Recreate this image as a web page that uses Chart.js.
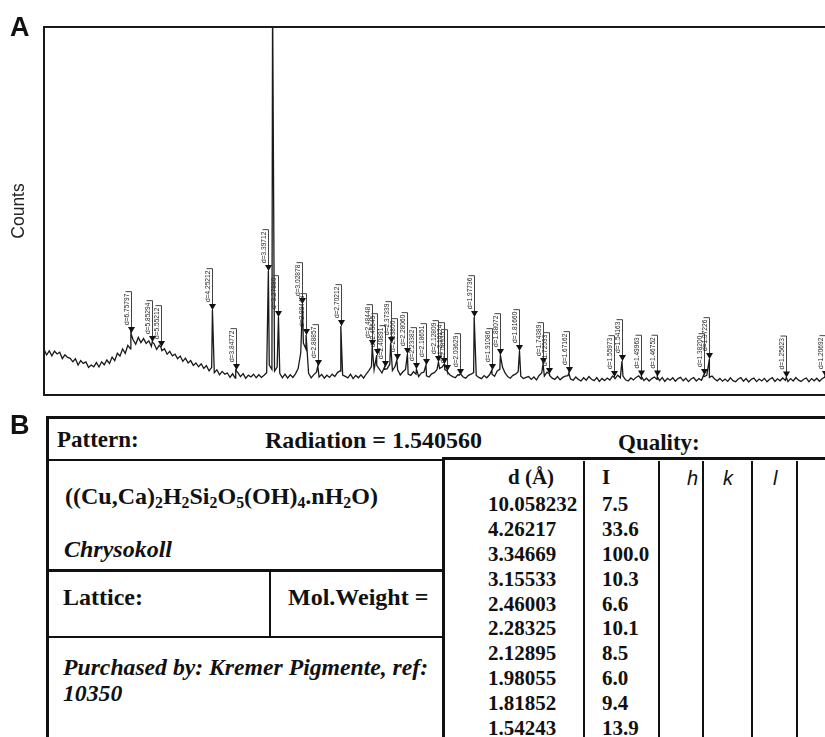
<!DOCTYPE html>
<html>
<head>
<meta charset="utf-8">
<script src="https://cdn.jsdelivr.net/npm/chart.js@4.4.1/dist/chart.umd.min.js"></script>
<style>
  html, body { margin: 0; padding: 0; background: #fff; }
  body { width: 825px; height: 737px; overflow: hidden; position: relative; }
  .abs { position: absolute; white-space: nowrap; }
  #plotWrap { position: absolute; left: 0; top: 0; width: 825px; height: 405px; overflow: hidden; }
  #xrd { position: absolute; left: 0; top: 0; }
  .panel { font-family: "Liberation Sans", Arial, sans-serif; font-weight: bold; font-size: 27px; line-height: 30px; color: #111; }
  .tb { font-family: "Liberation Serif", "Times New Roman", serif; font-weight: bold; color: #111; }
  .it { font-style: italic; }
  .hkl { font-family: "Liberation Sans", Arial, sans-serif; font-style: italic; font-size: 20px; color: #111; }
  .ln { position: absolute; background: #111; }
  sub { font-size: 0.66em; vertical-align: -0.28em; line-height: 0; }
</style>
</head>
<body>

<div id="plotWrap"><canvas id="xrd" width="840" height="405"></canvas></div>

<div class="abs panel" style="left:10px; top:12px;">A</div>
<div class="abs panel" style="left:10px; top:410px;">B</div>

<div id="sheet"></div>

<script>
// ---- Diffractogram data ----
const wavelength = 1.54056;           // Cu K-alpha, Angstrom
const gridStart = 4.8;                // first 2-theta sample (deg)
const gridStep = 0.25;                // 2-theta sampling step (deg)

// background counts, one per 2-theta sample
const baseCounts = [
  228,200,221,196,219,205,214,182,201,188,
  183,166,181,150,172,158,165,138,150,141,
  162,140,166,151,175,158,190,172,209,195,
  230,208,248,231,276,254,288,262,282,258,
  271,243,257,228,248,222,231,204,218,196,
  204,182,195,168,184,160,172,148,160,141,
  156,133,147,121,138,112,126,101,118,104,
  110,88,106,84,112,92,107,83,99,90,
  104,86,101,88,99,112,150,128,120,140,
  108,86,104,84,101,88,106,132,210,260,
  230,108,86,102,114,90,103,84,99,88,
  104,92,112,120,100,93,86,104,82,98,
  86,101,84,105,122,142,126,148,130,110,
  128,132,154,122,142,126,100,116,128,104,
  98,116,104,92,110,114,96,90,106,112,
  126,133,140,127,115,100,92,86,101,106,
  90,84,98,104,112,98,88,82,97,86,
  100,104,94,120,128,140,110,92,84,98,
  104,116,94,82,88,92,78,90,75,98,
  110,94,114,98,84,78,92,76,88,94,
  97,80,74,90,78,70,86,74,92,79,
  72,87,68,83,72,85,75,94,82,99,
  86,95,76,70,85,75,88,96,80,72,
  84,70,82,90,78,72,87,68,83,74,
  86,69,82,88,71,84,67,80,87,70,
  82,74,92,98,88,95,80,71,83,69,
  80,68,86,72,66,80,87,69,82,65,
  78,85,67,80,70,83,66,79,87,68,
  81,71,85,73,67,82,70,87,74,68,
  79,85,67,82,71,84,69,81,89,72,
  70,83,74
];

// labelled reflections: d-spacing (Angstrom) and peak counts
const peakLabels = [
  '6.75797','5.85294','5.55212','4.25212','3.84772','3.39712','3.27880','3.02878',
  '2.99448','2.88857','2.70212','2.48448','2.45645','2.40891','2.37339','2.33800',
  '2.28060','2.23382','2.18651','2.12809','2.10124','2.08935','2.03629','1.97736',
  '1.91086','1.88072','1.81660','1.74389','1.72533','1.67162','1.55973','1.54163',
  '1.49963','1.46752','1.38200','1.37226','1.25623','1.20692'
];
const peakCounts = [
  310,265,240,425,125,620,390,455,
  300,145,345,245,200,140,260,175,
  205,130,150,165,155,120,100,390,
  125,200,220,155,105,110,90,170,
  92,92,100,180,88,90
];

// strongest reflection (unlabelled, runs off the top of the frame)
const strongD = [3.34669];
const strongCounts = [2000];

// ---- Reference pattern table ----
const tableD = ['10.058232','4.26217','3.34669','3.15533','2.46003','2.28325','2.12895','1.98055','1.81852','1.54243'];
const tableI = ['7.5','33.6','100.0','10.3','6.6','10.1','8.5','6.0','9.4','13.9'];

// Bragg's law: d-spacing -> 2-theta in degrees
function twoTheta(d) {
  return 2 * Math.asin(wavelength / (2 * d)) * 180 / Math.PI;
}

const trace = [];
baseCounts.forEach((c, i) => trace.push({ x: gridStart + i * gridStep, y: c }));
peakLabels.forEach((d, k) => trace.push({ x: twoTheta(parseFloat(d)), y: peakCounts[k] }));
strongD.forEach((d, k) => trace.push({ x: twoTheta(d), y: strongCounts[k] }));
trace.sort((a, b) => a.x - b.x);

const peakMarks = peakLabels.map((d, k) => ({ x: twoTheta(parseFloat(d)), y: peakCounts[k], text: 'd=' + d }));

// frame around the plotting area (left, top, bottom) and the axis title
const framePlugin = {
  id: 'frame',
  afterDraw(chart) {
    const { ctx, chartArea: a } = chart;
    ctx.save();
    ctx.strokeStyle = '#1a1a1a';
    ctx.lineWidth = 2;
    ctx.beginPath();
    ctx.moveTo(a.right, a.top); ctx.lineTo(a.left, a.top);
    ctx.lineTo(a.left, a.bottom); ctx.lineTo(a.right, a.bottom);
    ctx.stroke();
    ctx.fillStyle = '#222';
    ctx.font = '17.5px "Liberation Sans", Arial, sans-serif';
    ctx.textAlign = 'center';
    ctx.textBaseline = 'middle';
    ctx.translate(19, 211);
    ctx.rotate(-Math.PI / 2);
    ctx.fillText('Counts', 0, 0);
    ctx.restore();
  }
};

// peak markers: down-pointing triangle, leader line and rotated d-spacing label
const peakPlugin = {
  id: 'peakLabels',
  afterDatasetsDraw(chart) {
    const { ctx } = chart;
    const xs = chart.scales.x, ys = chart.scales.y;
    ctx.save();
    ctx.font = '6.6px "Liberation Sans", Arial, sans-serif';
    peakMarks.forEach(p => {
      const px = Math.round(xs.getPixelForValue(p.x)) + 0.5;
      const py = ys.getPixelForValue(p.y);
      const tw = ctx.measureText(p.text).width;
      const base = py - 6;
      const textStart = base - 2;
      const top = textStart - tw - 2;
      ctx.strokeStyle = '#444';
      ctx.lineWidth = 1;
      ctx.beginPath();
      ctx.moveTo(px - 6, top); ctx.lineTo(px, top); ctx.lineTo(px, py);
      ctx.stroke();
      ctx.fillStyle = '#111';
      ctx.beginPath();
      ctx.moveTo(px - 3.5, base); ctx.lineTo(px + 3.5, base); ctx.lineTo(px, py);
      ctx.closePath();
      ctx.fill();
      ctx.save();
      ctx.translate(px - 1, textStart);
      ctx.rotate(-Math.PI / 2);
      ctx.fillStyle = '#222';
      ctx.textAlign = 'left';
      ctx.textBaseline = 'bottom';
      ctx.fillText(p.text, 0, 0);
      ctx.restore();
    });
    ctx.restore();
  }
};

new Chart(document.getElementById('xrd'), {
  type: 'line',
  data: {
    datasets: [{
      data: trace,
      borderColor: '#1a1a1a',
      borderWidth: 1.3,
      pointRadius: 0,
      tension: 0,
      fill: false
    }]
  },
  options: {
    responsive: false,
    devicePixelRatio: 1,
    animation: false,
    events: [],
    layout: { padding: { left: 44, top: 27, right: 8, bottom: 10 } },
    plugins: { legend: { display: false }, tooltip: { enabled: false } },
    scales: {
      x: { type: 'linear', min: 4.8, max: 80, display: false },
      y: { min: 0, max: 1840, display: false }
    }
  },
  plugins: [framePlugin, peakPlugin]
});

// ---- Table (panel B) ----
const sheet = document.getElementById('sheet');
function line(l, t, w, h) {
  const e = document.createElement('div');
  e.className = 'ln';
  e.style.cssText = `left:${l}px;top:${t}px;width:${w}px;height:${h}px;`;
  sheet.appendChild(e);
}
function text(html, l, cy, size, cls) {
  const e = document.createElement('div');
  e.className = 'abs ' + (cls || 'tb');
  e.style.cssText = `left:${l}px;top:${cy - size * 0.6}px;font-size:${size}px;line-height:${size * 1.2}px;`;
  e.innerHTML = html;
  sheet.appendChild(e);
}

line(46, 416, 779, 3);       // top border
line(46, 416, 3, 321);       // left border
line(46, 459, 398, 2);       // under "Pattern"
line(443, 457, 382, 3);      // top of peak list
line(442, 457, 3, 280);      // left of peak list
line(46, 569, 398, 3);       // under formula block
line(269, 571, 2, 66);       // lattice / mol. weight divider
line(46, 636, 398, 2);       // under lattice row
[583, 658, 702, 751, 796].forEach(x => line(x, 461, 2, 276));

text('Pattern:', 57, 440, 23);
text('Radiation = 1.540560', 265, 440, 24);
text('Quality:', 618, 443, 23);
text('((Cu,Ca)<sub>2</sub>H<sub>2</sub>Si<sub>2</sub>O<sub>5</sub>(OH)<sub>4</sub>.nH<sub>2</sub>O)', 65, 496, 24);
text('Chrysokoll', 64, 549, 24, 'tb it');
text('Lattice:', 63, 597, 24);
text('Mol.Weight =', 288, 597, 24);
text('Purchased by: Kremer Pigmente, ref:', 63, 667, 23.7, 'tb it');
text('10350', 63, 693, 23.7, 'tb it');

text('d (Å)', 508, 478, 21);
text('I', 602, 478, 21);
text('h', 687, 478, 20, 'hkl');
text('k', 723, 478, 20, 'hkl');
text('l', 773, 478, 20, 'hkl');
tableD.forEach((d, k) => {
  text(d, 488, 505 + k * 24.8, 21);
  text(tableI[k], 602, 505 + k * 24.8, 21);
});
</script>
</body>
</html>
